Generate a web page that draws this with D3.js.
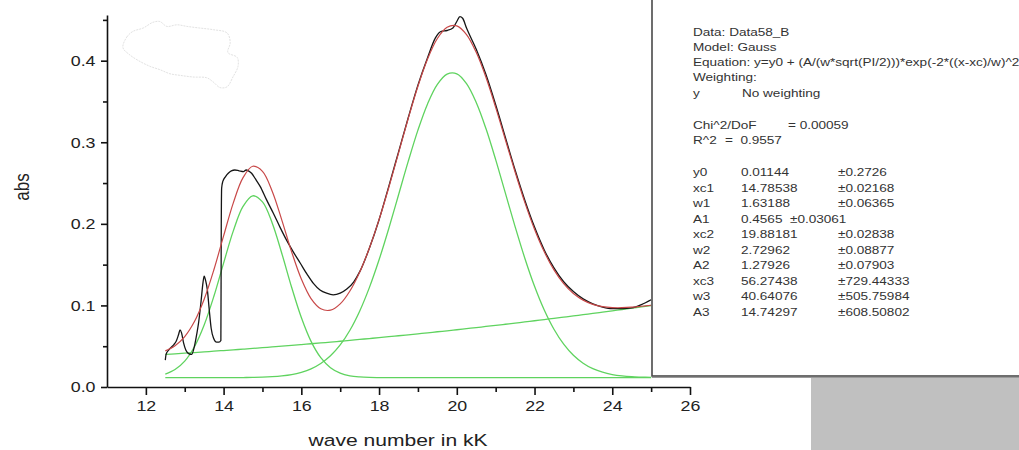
<!DOCTYPE html>
<html>
<head>
<meta charset="utf-8">
<script src="https://cdn.jsdelivr.net/npm/d3@7"></script>
<style>
  body { margin: 0; background: #fff; }
  svg { display: block; }
  text { font-family: "Liberation Sans", Arial, sans-serif; white-space: pre; }
</style>
</head>
<body>
<svg id="chart" width="1019" height="450"></svg>
<script>
// wave number grid of the fitted curves (kK)
const fitX = [12.5, 12.75, 13, 13.25, 13.5, 13.75, 14, 14.25, 14.5, 14.75,
  15, 15.25, 15.5, 15.75, 16, 16.25, 16.5, 16.75, 17, 17.25,
  17.5, 17.75, 18, 18.25, 18.5, 18.75, 19, 19.25, 19.5, 19.75,
  20, 20.25, 20.5, 20.75, 21, 21.25, 21.5, 21.75, 22, 22.25,
  22.5, 22.75, 23, 23.25, 23.5, 23.75, 24, 24.25, 24.5, 24.75, 25];

// fitted gauss components (green) and their sum (red)
const peak1 = [0.0158, 0.0214, 0.0318, 0.0494, 0.0760, 0.1112, 0.1519, 0.1914, 0.2214, 0.2344,
  0.2270, 0.2011, 0.1634, 0.1223, 0.0851, 0.0559, 0.0359, 0.0237, 0.0170, 0.0137,
  0.0123, 0.0117, 0.0115, 0.0114, 0.0114, 0.0114, 0.0114, 0.0114, 0.0114, 0.0114,
  0.0114, 0.0114, 0.0114, 0.0114, 0.0114, 0.0114, 0.0114, 0.0114, 0.0114, 0.0114,
  0.0114, 0.0114, 0.0114, 0.0114, 0.0114, 0.0114, 0.0114, 0.0114, 0.0114, 0.0114, 0.0114];
const peak2 = [0.0114, 0.0114, 0.0114, 0.0114, 0.0114, 0.0114, 0.0114, 0.0115, 0.0116, 0.0117,
  0.0120, 0.0126, 0.0136, 0.0152, 0.0180, 0.0222, 0.0288, 0.0383, 0.0516, 0.0696,
  0.0929, 0.1218, 0.1559, 0.1943, 0.2353, 0.2765, 0.3149, 0.3473, 0.3709, 0.3835,
  0.3839, 0.3719, 0.3488, 0.3168, 0.2787, 0.2376, 0.1966, 0.1579, 0.1235, 0.0944,
  0.0708, 0.0525, 0.0389, 0.0292, 0.0225, 0.0181, 0.0153, 0.0136, 0.0126, 0.0121, 0.0117];
const peak3 = [0.0399, 0.0406, 0.0414, 0.0422, 0.0430, 0.0439, 0.0447, 0.0456, 0.0464, 0.0473,
  0.0482, 0.0491, 0.0501, 0.0510, 0.0520, 0.0530, 0.0540, 0.0550, 0.0561, 0.0572,
  0.0583, 0.0594, 0.0605, 0.0617, 0.0628, 0.0640, 0.0652, 0.0664, 0.0677, 0.0689,
  0.0702, 0.0715, 0.0728, 0.0742, 0.0755, 0.0769, 0.0783, 0.0798, 0.0812, 0.0827,
  0.0841, 0.0856, 0.0871, 0.0887, 0.0902, 0.0918, 0.0934, 0.0950, 0.0966, 0.0983, 0.0999];
const fitSum = [0.0443, 0.0506, 0.0618, 0.0802, 0.1076, 0.1437, 0.1852, 0.2257, 0.2566, 0.2706,
  0.2644, 0.2400, 0.2043, 0.1657, 0.1323, 0.1083, 0.0959, 0.0942, 0.1019, 0.1177,
  0.1407, 0.1701, 0.2051, 0.2446, 0.2867, 0.3291, 0.3687, 0.4023, 0.4272, 0.4410,
  0.4427, 0.4320, 0.4102, 0.3796, 0.3428, 0.3031, 0.2635, 0.2263, 0.1933, 0.1657,
  0.1435, 0.1267, 0.1146, 0.1065, 0.1013, 0.0985, 0.0973, 0.0972, 0.0978, 0.0990, 0.1002];

// measured spectrum (black)
const dataX = [12.50, 12.52, 12.58, 12.66, 12.72, 12.78, 12.84, 12.88, 12.92, 12.97,
  13.03, 13.10, 13.18, 13.25, 13.31, 13.36, 13.42, 13.47, 13.50, 13.54,
  13.58, 13.63, 13.68, 13.74, 13.82, 13.88, 13.93, 13.94, 13.95, 13.98,
  14.05, 14.12, 14.20, 14.29, 14.40, 14.51, 14.58, 14.64, 14.72, 14.82,
  14.94, 15.10, 15.28, 15.45, 15.62, 15.80, 15.97, 16.15, 16.31, 16.48,
  16.65, 16.82, 17.00, 17.17, 17.35, 17.51, 17.75, 18.00, 18.25, 18.50,
  18.75, 19.00, 19.25, 19.45, 19.60, 19.75, 19.90, 20.00, 20.08, 20.15,
  20.25, 20.50, 20.75, 21.00, 21.25, 21.50, 21.75, 22.00, 22.25, 22.50,
  22.75, 23.00, 23.25, 23.50, 23.75, 24.00, 24.25, 24.50, 24.75, 25.00];
const dataY = [0.033, 0.040, 0.045, 0.049, 0.052, 0.056, 0.064, 0.070, 0.066, 0.054,
  0.045, 0.041, 0.040, 0.050, 0.065, 0.080, 0.105, 0.128, 0.136, 0.130,
  0.120, 0.095, 0.072, 0.060, 0.055, 0.055, 0.057, 0.200, 0.244, 0.252,
  0.258, 0.262, 0.265, 0.266, 0.265, 0.264, 0.266, 0.265, 0.262, 0.255,
  0.246, 0.230, 0.213, 0.196, 0.180, 0.165, 0.152, 0.138, 0.127, 0.119,
  0.115, 0.113, 0.115, 0.120, 0.129, 0.142, 0.170, 0.205, 0.246, 0.288,
  0.330, 0.370, 0.404, 0.428, 0.436, 0.437, 0.440, 0.448, 0.454, 0.452,
  0.440, 0.414, 0.383, 0.346, 0.306, 0.266, 0.229, 0.196, 0.168, 0.146,
  0.129, 0.117, 0.108, 0.102, 0.098, 0.096, 0.096, 0.097, 0.101, 0.107];

// faint scribble in the upper left corner (data units)
const cloudX = [11.41, 11.51, 11.67, 11.93, 12.18, 12.36, 12.54, 12.80, 13.06, 13.39, 13.73, 14.09, 14.17, 14.11,
  14.35, 14.37, 14.24, 14.09, 13.91, 13.73, 13.57, 13.21, 12.88, 12.62, 12.36, 12.11, 11.85, 11.59];
const cloudY = [0.416, 0.429, 0.436, 0.440, 0.447, 0.448, 0.442, 0.444, 0.442, 0.440, 0.438, 0.434, 0.422, 0.410,
  0.404, 0.393, 0.380, 0.368, 0.367, 0.374, 0.379, 0.380, 0.382, 0.384, 0.389, 0.393, 0.399, 0.407];

const xMajor = [12, 14, 16, 18, 20, 22, 24, 26];
const xMinor = [13, 15, 17, 19, 21, 23, 25];
const yMajor = [0.0, 0.1, 0.2, 0.3, 0.4];
const yMinor = [0.05, 0.15, 0.25, 0.35, 0.45];

// fit report text
const reportHead = ['Data: Data58_B', 'Model: Gauss',
  'Equation: y=y0 + (A/(w*sqrt(PI/2)))*exp(-2*((x-xc)/w)^2', 'Weighting:'];
const reportStats = [['Chi^2/DoF', '= 0.00059'], ['R^2', '=  0.9557']];
const paramNames = ['y0', 'xc1', 'w1', 'A1', 'xc2', 'w2', 'A2', 'xc3', 'w3', 'A3'];
const paramValues = ['0.01144', '14.78538', '1.63188', '0.4565  \u00b10.03061', '19.88181',
  '2.72962', '1.27926', '56.27438', '40.64076', '14.74297'];
const paramErrors = ['\u00b10.2726', '\u00b10.02168', '\u00b10.06365', '', '\u00b10.02838',
  '\u00b10.08877', '\u00b10.07903', '\u00b1729.44333', '\u00b1505.75984', '\u00b1608.50802'];

const svg = d3.select('#chart');
const sx = 1.15; // the original is stretched horizontally

const x = d3.scaleLinear().domain([11, 26]).range([107, 690]);
const y = d3.scaleLinear().domain([0, 0.456]).range([387, 15]);

const line = d3.line()
  .x(d => x(d[0]))
  .y(d => y(d[1]))
  .curve(d3.curveCatmullRom);

// scribble
svg.append('path')
  .datum(cloudX.map((v, i) => [v, cloudY[i]]))
  .attr('d', d3.line().x(d => x(d[0])).y(d => y(d[1])).curve(d3.curveCatmullRomClosed))
  .attr('fill', 'none')
  .attr('stroke', '#e2e2e2')
  .attr('stroke-width', 1)
  .attr('stroke-dasharray', '2,1');

// green components
[peak1, peak2, peak3].forEach(vals => {
  svg.append('path')
    .datum(fitX.map((v, i) => [v, vals[i]]))
    .attr('d', line)
    .attr('fill', 'none')
    .attr('stroke', '#5fd35f')
    .attr('stroke-width', 1.3);
});

// measured data
svg.append('path')
  .datum(dataX.map((v, i) => [v, dataY[i]]))
  .attr('d', d3.line().x(d => x(d[0])).y(d => y(d[1])).curve(d3.curveMonotoneX))
  .attr('fill', 'none')
  .attr('stroke', '#161616')
  .attr('stroke-width', 1.3);

// cumulative fit
svg.append('path')
  .datum(fitX.map((v, i) => [v, fitSum[i]]))
  .attr('d', line)
  .attr('fill', 'none')
  .attr('stroke', '#c84848')
  .attr('stroke-width', 1.2);

// axes
const xAxis = svg.append('g')
  .attr('transform', 'translate(0,' + y(0) + ')')
  .call(d3.axisBottom(x).tickValues(xMajor).tickSize(8).tickSizeOuter(0).tickPadding(5)
    .tickFormat(d3.format('d')));
svg.append('g')
  .attr('transform', 'translate(0,' + y(0) + ')')
  .call(d3.axisBottom(x).tickValues(xMinor).tickSize(5).tickFormat(''))
  .call(g => g.select('.domain').remove());
const yAxis = svg.append('g')
  .attr('transform', 'translate(' + x(11) + ',0)')
  .call(d3.axisLeft(y).tickValues(yMajor).tickSize(6).tickSizeOuter(0).tickPadding(4)
    .tickFormat(d3.format('.1f')));
svg.append('g')
  .attr('transform', 'translate(' + x(11) + ',0)')
  .call(d3.axisLeft(y).tickValues(yMinor).tickSize(4).tickFormat(''))
  .call(g => g.select('.domain').remove());

svg.selectAll('.domain').attr('stroke-width', 1.6).attr('stroke', '#111');
svg.selectAll('.tick line').attr('stroke-width', 1.6).attr('stroke', '#111');
[xAxis, yAxis].forEach(a => a.selectAll('text')
  .attr('font-size', 15.5)
  .attr('fill', '#222')
  .attr('font-family', '"Liberation Sans", Arial, sans-serif')
  .attr('transform', 'scale(' + sx + ',1)'));

// axis titles
svg.append('text')
  .attr('transform', 'translate(398,440) scale(1.24,1)')
  .attr('text-anchor', 'middle')
  .attr('dominant-baseline', 'central')
  .attr('font-size', 17)
  .attr('fill', '#222')
  .text('wave number in kK');
svg.append('text')
  .attr('transform', 'translate(22,187) scale(1.2,1) rotate(-90)')
  .attr('text-anchor', 'middle')
  .attr('dominant-baseline', 'central')
  .attr('font-size', 17)
  .attr('fill', '#222')
  .text('abs');

// fit report box
svg.append('rect')
  .attr('x', 811).attr('y', 377).attr('width', 210).attr('height', 75)
  .attr('fill', '#c0c0c0');
svg.append('line')
  .attr('x1', 652).attr('x2', 1019).attr('y1', 377.5).attr('y2', 377.5)
  .attr('stroke', '#9a9a9a').attr('stroke-width', 1);
svg.append('rect')
  .attr('x', 652).attr('y', -5).attr('width', 380).attr('height', 381)
  .attr('fill', '#fff')
  .attr('stroke', '#4a4a4a')
  .attr('stroke-width', 1.6);

const report = svg.append('g')
  .attr('font-size', 11.3)
  .attr('fill', '#333');
function put(px, py, str) {
  report.append('text')
    .attr('transform', 'translate(' + px + ',' + py + ') scale(1.2,1)')
    .attr('dominant-baseline', 'central')
    .text(str);
}
reportHead.forEach((s, i) => put(693, 32 + i * 15.2, s));
put(693, 93, 'y');
put(742, 93, 'No weighting');
put(693, 125, reportStats[0][0]);
put(788, 125, reportStats[0][1]);
put(693, 140, reportStats[1][0]);
put(725, 140, reportStats[1][1]);
paramNames.forEach((n, i) => {
  const py = 172.5 + i * 15.5;
  put(693, py, n);
  put(741, py, paramValues[i]);
  if (paramErrors[i]) put(838, py, paramErrors[i]);
});
</script>
</body>
</html>
